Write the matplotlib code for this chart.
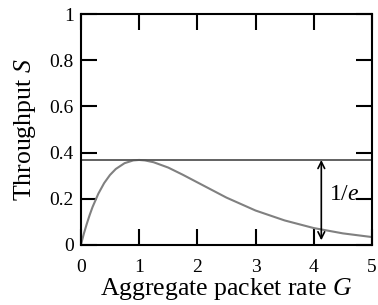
import matplotlib
matplotlib.use('Agg')
import matplotlib.pyplot as plt

plt.rcParams['font.family'] = 'Liberation Serif'
plt.rcParams['mathtext.fontset'] = 'custom'
plt.rcParams['mathtext.rm'] = 'Liberation Serif'
plt.rcParams['mathtext.it'] = 'Liberation Serif:italic'

# throughput curve
G = [0, 0.05, 0.1, 0.15, 0.2, 0.3, 0.4, 0.5, 0.6, 0.75, 0.9, 1.0, 1.1, 1.25,
     1.5, 1.75, 2.0, 2.5, 3.0, 3.5, 4.0, 4.5, 5.0]
S = [0, 0.048, 0.09, 0.129, 0.164, 0.222, 0.268, 0.303, 0.329, 0.354, 0.366,
     0.368, 0.366, 0.358, 0.335, 0.304, 0.271, 0.205, 0.149, 0.106, 0.073,
     0.050, 0.034]
peak = 0.368
arrow_G = 4.13
xticks = [0, 1, 2, 3, 4, 5]
yticks = [0, 0.2, 0.4, 0.6, 0.8, 1]
ytick_labels = ['0', '0.2', '0.4', '0.6', '0.8', '1']

fig = plt.figure(figsize=(3.78, 3.05), dpi=100)
ax = fig.add_axes([0.214, 0.197, 0.77, 0.757])

ax.plot(G, S, color='#808080', lw=1.5)
ax.axhline(peak, color='#555555', lw=1.3)
ax.annotate('', xy=(arrow_G, 0.02), xytext=(arrow_G, peak),
            arrowprops=dict(arrowstyle='<->', color='black', lw=1.2,
                            shrinkA=0, shrinkB=0, mutation_scale=12))
ax.text(arrow_G + 0.13, 0.22, '1/$e$', fontsize=17, va='center', ha='left')

ax.set_xlim(0, 5)
ax.set_ylim(0, 1)
ax.set_xticks(xticks)
ax.set_xticklabels([str(t) for t in xticks])
ax.set_yticks(yticks)
ax.set_yticklabels(ytick_labels)
ax.tick_params(direction='in', length=11.5, width=1.5, labelsize=14,
               top=True, right=True, pad=5)
ax.tick_params(axis='x', pad=10)
for sp in ax.spines.values():
    sp.set_linewidth(1.5)

ax.set_xlabel('Aggregate packet rate $G$', fontsize=18.5, labelpad=0)
ax.set_ylabel('Throughput $S$', fontsize=18.5, labelpad=8)

fig.savefig('out.png', dpi=100)
